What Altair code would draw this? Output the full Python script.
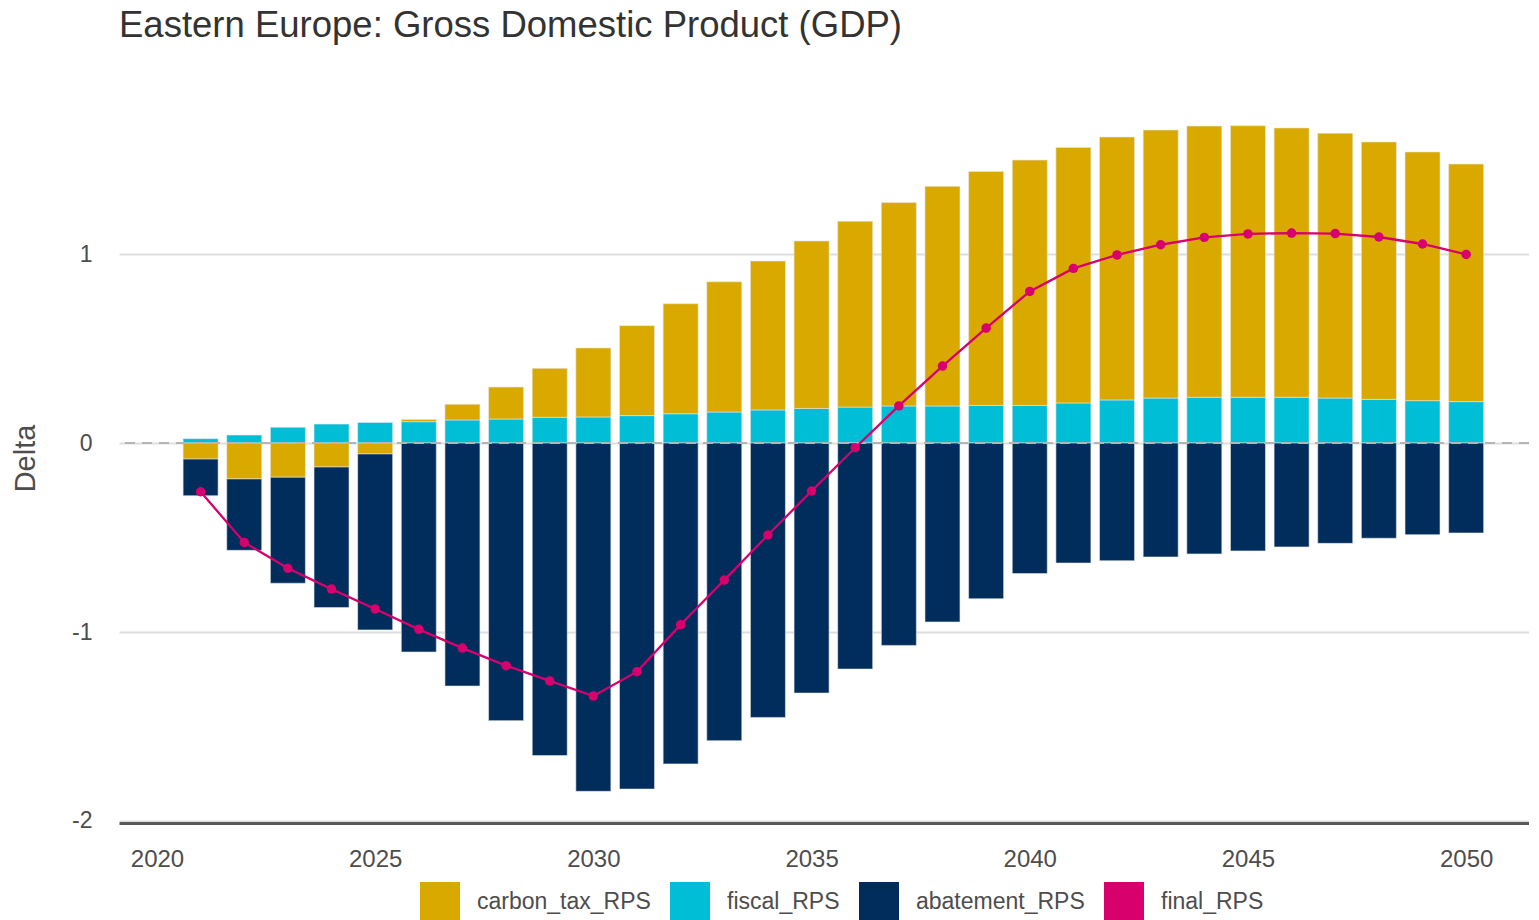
import altair as alt
import pandas as pd

years = list(range(2021, 2051))

carbon_tax = [-0.085, -0.190, -0.181, -0.127, -0.058, 0.012, 0.083, 0.169, 0.259, 0.365,
              0.476, 0.582, 0.689, 0.788, 0.886, 0.983, 1.076, 1.162, 1.238, 1.298,
              1.352, 1.391, 1.418, 1.435, 1.437, 1.425, 1.401, 1.362, 1.316, 1.257]
fiscal = [0.023, 0.042, 0.083, 0.100, 0.109, 0.113, 0.122, 0.127, 0.136, 0.138,
          0.145, 0.155, 0.164, 0.175, 0.183, 0.190, 0.196, 0.196, 0.199, 0.199,
          0.212, 0.228, 0.238, 0.242, 0.242, 0.242, 0.238, 0.231, 0.224, 0.219]
abatement = [-0.194, -0.378, -0.561, -0.744, -0.931, -1.106, -1.286, -1.469, -1.654, -1.843,
             -1.831, -1.698, -1.575, -1.452, -1.323, -1.196, -1.071, -0.947, -0.824, -0.691,
             -0.635, -0.623, -0.603, -0.587, -0.571, -0.550, -0.531, -0.504, -0.485, -0.476]
final = [-0.258, -0.526, -0.663, -0.773, -0.878, -0.986, -1.085, -1.178, -1.259, -1.339,
         -1.210, -0.961, -0.725, -0.487, -0.254, -0.025, 0.196, 0.407, 0.608, 0.802,
         0.924, 0.995, 1.049, 1.088, 1.106, 1.111, 1.108, 1.090, 1.053, 0.998]

series_names = ["carbon_tax_RPS", "fiscal_RPS", "abatement_RPS", "final_RPS"]
series_colors = ["#D9A900", "#00BED6", "#002D5C", "#D7006D"]
x_ticks = [2020, 2025, 2030, 2035, 2040, 2045, 2050]
y_ticks = [-2, -1, 0, 1]

rows = []
for i, yr in enumerate(years):
    rows.append({"year": yr, "series": "fiscal_RPS", "value": fiscal[i], "ord": 0})
    rows.append({"year": yr, "series": "carbon_tax_RPS", "value": carbon_tax[i], "ord": 1})
    rows.append({"year": yr, "series": "abatement_RPS", "value": abatement[i], "ord": 2})
bars_df = pd.DataFrame(rows)
final_df = pd.DataFrame({"year": years, "value": final})
zero_df = pd.DataFrame({"y": [0]})

x_scale = alt.Scale(domain=[2019.13, 2051.44], nice=False, zero=False, padding=0)
y_scale = alt.Scale(domain=[-2.0106, 1.799], nice=False, zero=False)
color_scale = alt.Scale(domain=series_names, range=series_colors)

bars = alt.Chart(bars_df).mark_bar(width=35, stroke="#e6e6e6", strokeWidth=0.6).encode(
    x=alt.X("year:Q", scale=x_scale,
            axis=alt.Axis(values=x_ticks, format="d", title=None, grid=False, ticks=False,
                          domain=True, domainColor="#595959", domainWidth=3,
                          labelFontSize=24, labelColor="#4d4d4d", labelPadding=24,
                          labelFont="Liberation Sans")),
    y=alt.Y("value:Q", scale=y_scale, stack="zero",
            axis=alt.Axis(values=y_ticks, labelExpr="'' + datum.value", title="Delta", grid=True,
                          gridColor="#dedede", gridWidth=2, ticks=False, domain=False,
                          labelFontSize=23, labelColor="#4d4d4d", labelPadding=27,
                          labelFont="Liberation Sans",
                          titleFontSize=29, titleColor="#4d4d4d", titleFont="Liberation Sans",
                          titleFontWeight="normal", titleX=-94, titleY=355,
                          titleAngle=270, titleAlign="center", titleBaseline="middle")),
    color=alt.Color("series:N", scale=color_scale,
                    legend=alt.Legend(title=None, orient="none", direction="horizontal",
                                      legendX=301, legendY=779, symbolType="square",
                                      symbolSize=1600, symbolStrokeWidth=0,
                                      labelFontSize=23, labelColor="#4d4d4d",
                                      labelFont="Liberation Sans", labelOffset=17,
                                      labelLimit=400, columnPadding=19, padding=0)),
    order=alt.Order("ord:Q"),
)

zero_line = alt.Chart(zero_df).mark_rule(color="#b5b5b5", strokeWidth=2, strokeDash=[10, 7]).encode(
    y=alt.Y("y:Q", scale=y_scale)
)

line = alt.Chart(final_df).mark_line(color="#D7006D", strokeWidth=2.3).encode(
    x=alt.X("year:Q", scale=x_scale),
    y=alt.Y("value:Q", scale=y_scale),
)
points = alt.Chart(final_df).mark_circle(color="#D7006D", size=90, opacity=1).encode(
    x=alt.X("year:Q", scale=x_scale),
    y=alt.Y("value:Q", scale=y_scale),
)

chart = alt.layer(bars, zero_line, line, points).properties(
    width=1410,
    height=720,
    padding={"left": 111, "top": 95, "right": 0, "bottom": 97},
    autosize=alt.AutoSizeParams(type="none"),
    title=alt.TitleParams(
        "Eastern Europe: Gross Domestic Product (GDP)",
        anchor="start", frame="group", fontSize=36.5, font="Liberation Sans",
        fontWeight="normal", color="#333333", baseline="alphabetic", offset=30,
    ),
).configure_view(stroke=None)

chart.save("out.html", embed_options={"renderer": "svg", "actions": False})
